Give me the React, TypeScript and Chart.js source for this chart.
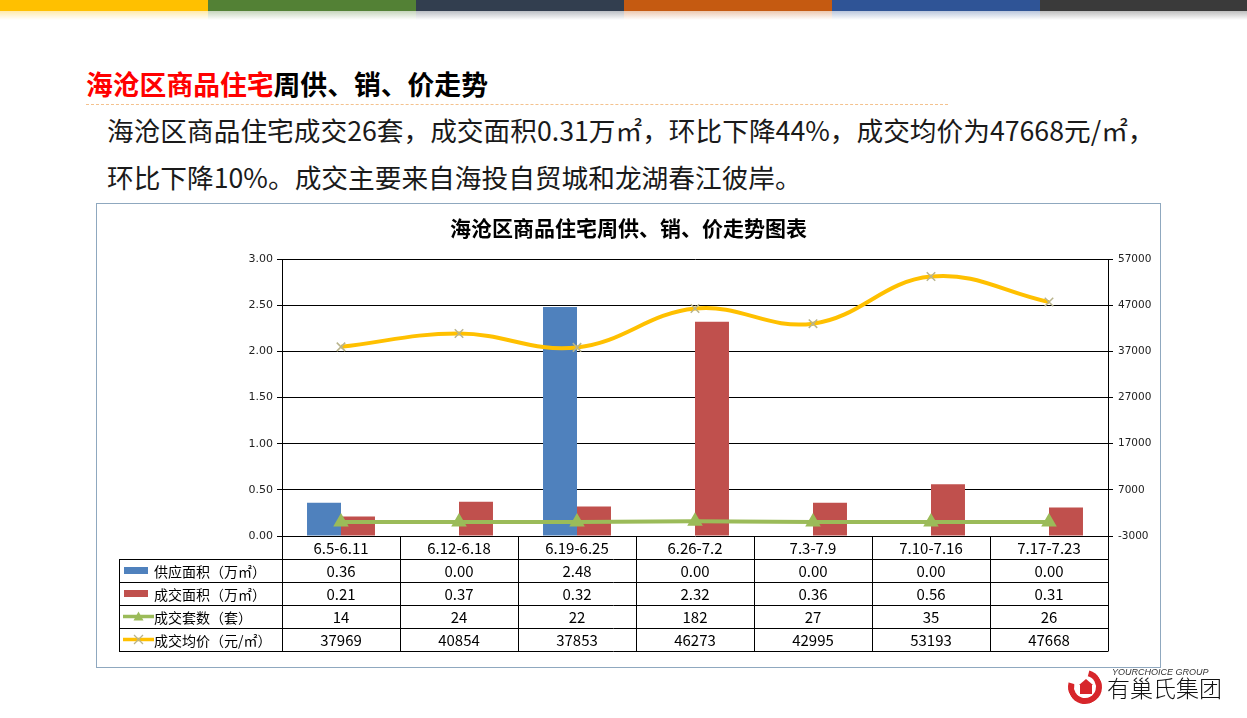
import React, { useEffect, useRef } from "react";
import { Chart, registerables } from "chart.js";

Chart.register(...registerables);

const categories = ["6.5-6.11", "6.12-6.18", "6.19-6.25", "6.26-7.2", "7.3-7.9", "7.10-7.16", "7.17-7.23"];
const supplyArea = [0.36, 0, 2.48, 0, 0, 0, 0];
const dealArea = [0.21, 0.37, 0.32, 2.32, 0.36, 0.56, 0.31];
const dealUnits = [14, 24, 22, 182, 27, 35, 26];
const avgPrice = [37969, 40854, 37853, 46273, 42995, 53193, 47668];
const leftTicks = [0, 0.5, 1, 1.5, 2, 2.5, 3];
const rightTicks = [-3000, 7000, 17000, 27000, 37000, 47000, 57000];
const seriesNames = ["供应面积（万㎡）", "成交面积（万㎡）", "成交套数（套）", "成交均价（元/㎡）"];
const chartTitle = "海沧区商品住宅周供、销、价走势图表";

const BLUE = "#4F81BD";
const RED = "#C0504D";
const GREEN = "#9BBB59";
const YELLOW = "#FFC000";
const MARK = "#B9B48C";

const stripeColors = ["#FFC000", "#538135", "#323E4F", "#C55A11", "#2F5496", "#3A3A3A"];

const CJK = '"Noto Sans CJK SC", "Noto Sans", sans-serif';

function ChartBox() {
  const ref = useRef<HTMLCanvasElement | null>(null);
  useEffect(() => {
    if (!ref.current) return;
    const tablePlugin = {
      id: "tablePlugin",
      afterDraw(chart: any) {
        const ctx = chart.ctx as CanvasRenderingContext2D;
        const area = chart.chartArea;
        const xs = chart.scales.x;
        const n = categories.length;
        const colW = (area.right - area.left) / n;
        const rowH = 23;
        const top = area.bottom;
        const legendLeft = 22;
        ctx.save();
        // title
        ctx.fillStyle = "#000";
        ctx.font = `bold 21px ${CJK}`;
        ctx.textAlign = "center";
        ctx.textBaseline = "middle";
        ctx.fillText(chartTitle, chart.width / 2, 24);
        // grid lines of table
        ctx.strokeStyle = "#000";
        ctx.lineWidth = 1;
        ctx.beginPath();
        for (let k = 1; k <= 5; k++) {
          const y = Math.round(top + rowH * k) + 0.5;
          ctx.moveTo(legendLeft, y);
          ctx.lineTo(area.right, y);
        }
        for (let k = 0; k <= n; k++) {
          const x = Math.round(area.left + colW * k) + 0.5;
          ctx.moveTo(x, top);
          ctx.lineTo(x, top + rowH * 5 + 0.5);
        }
        const lx = legendLeft + 0.5;
        ctx.moveTo(lx, top + rowH);
        ctx.lineTo(lx, top + rowH * 5 + 0.5);
        ctx.stroke();
        // text
        ctx.fillStyle = "#000";
        ctx.font = `15px ${CJK}`;
        ctx.textAlign = "center";
        const rows = [
          categories,
          supplyArea.map((v) => v.toFixed(2)),
          dealArea.map((v) => v.toFixed(2)),
          dealUnits.map((v) => String(v)),
          avgPrice.map((v) => String(v)),
        ];
        rows.forEach((row, r) => {
          const cy = top + rowH * r + rowH / 2 + 1;
          row.forEach((txt, i) => {
            const cx = xs.getPixelForValue(i);
            ctx.fillText(txt, cx, cy);
          });
        });
        // legend column
        ctx.textAlign = "left";
        ctx.font = `14px ${CJK}`;
        seriesNames.forEach((name, r) => {
          const cy = top + rowH * (r + 1) + rowH / 2;
          const ix = legendLeft + 4;
          if (r === 0 || r === 1) {
            ctx.fillStyle = r === 0 ? BLUE : RED;
            ctx.fillRect(ix + 1, cy - 3.5, 24, 7);
          } else if (r === 2) {
            ctx.strokeStyle = GREEN;
            ctx.lineWidth = 3.5;
            ctx.beginPath();
            ctx.moveTo(ix, cy);
            ctx.lineTo(ix + 31, cy);
            ctx.stroke();
            ctx.fillStyle = GREEN;
            ctx.beginPath();
            ctx.moveTo(ix + 15.5, cy - 5);
            ctx.lineTo(ix + 20.5, cy + 4);
            ctx.lineTo(ix + 10.5, cy + 4);
            ctx.closePath();
            ctx.fill();
          } else {
            ctx.strokeStyle = YELLOW;
            ctx.lineWidth = 3.5;
            ctx.beginPath();
            ctx.moveTo(ix, cy);
            ctx.lineTo(ix + 31, cy);
            ctx.stroke();
            ctx.strokeStyle = MARK;
            ctx.lineWidth = 1.3;
            ctx.beginPath();
            ctx.moveTo(ix + 11, cy - 4.5);
            ctx.lineTo(ix + 20, cy + 4.5);
            ctx.moveTo(ix + 20, cy - 4.5);
            ctx.lineTo(ix + 11, cy + 4.5);
            ctx.stroke();
          }
          ctx.fillStyle = "#000";
          ctx.fillText(name, legendLeft + 35, cy + 1);
        });
        ctx.restore();
      },
    };

    const chart = new Chart(ref.current, {
      type: "bar",
      data: {
        labels: categories,
        datasets: [
          {
            type: "line",
            label: seriesNames[3],
            data: avgPrice,
            yAxisID: "y2",
            borderColor: YELLOW,
            backgroundColor: YELLOW,
            borderWidth: 4,
            tension: 0.4,
            pointStyle: "crossRot",
            pointRadius: 6,
            pointBorderColor: MARK,
            pointBorderWidth: 1.5,
            order: 0,
          } as any,
          {
            type: "line",
            label: seriesNames[2],
            data: dealUnits,
            yAxisID: "y2",
            borderColor: GREEN,
            backgroundColor: GREEN,
            borderWidth: 4,
            tension: 0,
            pointStyle: "triangle",
            pointRadius: 5,
            pointBackgroundColor: GREEN,
            pointBorderColor: GREEN,
            order: 1,
          } as any,
          {
            type: "bar",
            label: seriesNames[0],
            data: supplyArea,
            yAxisID: "y",
            backgroundColor: BLUE,
            categoryPercentage: 0.576,
            barPercentage: 1,
            order: 2,
          },
          {
            type: "bar",
            label: seriesNames[1],
            data: dealArea,
            yAxisID: "y",
            backgroundColor: RED,
            categoryPercentage: 0.576,
            barPercentage: 1,
            order: 3,
          },
        ],
      },
      options: {
        responsive: false,
        animation: false,
        devicePixelRatio: 1,
        layout: { padding: { left: 0, right: 0, top: 55, bottom: 0 } },
        plugins: {
          legend: { display: false },
          tooltip: { enabled: false },
          title: { display: false },
        },
        scales: {
          x: {
            type: "category",
            offset: true,
            grid: { display: false },
            border: { display: false },
            ticks: { display: false },
            afterFit: (s: any) => {
              s.height = 131;
            },
          },
          y: {
            position: "left",
            min: 0,
            max: 3,
            afterBuildTicks: (s: any) => {
              s.ticks = leftTicks.map((v) => ({ value: v }));
            },
            afterFit: (s: any) => {
              s.width = 185;
            },
            ticks: {
              color: "#222",
              font: { family: "DejaVu Sans", size: 11 },
              padding: 4,
              callback: (v: any) => Number(v).toFixed(2),
            },
            grid: { color: "#000", tickColor: "#000", tickLength: 5, lineWidth: 1 },
            border: { display: true, color: "#000", width: 1 },
          },
          y2: {
            position: "right",
            min: -3000,
            max: 57000,
            afterBuildTicks: (s: any) => {
              s.ticks = rightTicks.map((v) => ({ value: v }));
            },
            afterFit: (s: any) => {
              s.width = 52;
            },
            ticks: {
              color: "#222",
              font: { family: "DejaVu Sans", size: 10.5 },
              padding: 5,
              callback: (v: any) => String(v),
            },
            grid: { drawOnChartArea: false, color: "#000", tickColor: "#000", tickLength: 5 },
            border: { display: true, color: "#000", width: 1 },
          },
        },
      } as any,
      plugins: [tablePlugin],
    });
    return () => chart.destroy();
  }, []);
  return <canvas ref={ref} width={1063} height={463} style={{ display: "block", width: 1063, height: 463 }} />;
}

export default function App() {
  useEffect(() => {
    document.body.style.margin = "0";
  }, []);
  return (
    <div style={{ position: "absolute", left: 0, top: 0, width: 1247, height: 718, background: "#fff", overflow: "hidden", fontFamily: CJK }}>
      {stripeColors.map((c, i) => (
        <div key={i} style={{ position: "absolute", left: i * 208, top: 0, width: i === 5 ? 1247 - 1040 : 208, height: 20 }}>
          <div style={{ height: 11, background: c }} />
          <div style={{ height: 9, background: `linear-gradient(${c}55, #ffffff00)` }} />
        </div>
      ))}
      <div style={{ position: "absolute", left: 86, top: 68, fontSize: 26.8, fontWeight: 700, lineHeight: "32px", whiteSpace: "nowrap", letterSpacing: 0 }}>
        <span style={{ color: "#FF0000" }}>海沧区商品住宅</span>
        <span style={{ color: "#000" }}>周供、销、价走势</span>
      </div>
      <div style={{ position: "absolute", left: 86, top: 104, width: 862, borderTop: "1px dashed #F4C28E" }} />
      <div style={{ position: "absolute", left: 107, top: 106, fontSize: 26.7, lineHeight: "47px", color: "#1a1a1a", whiteSpace: "nowrap" }}>
        <div>海沧区商品住宅成交26套，成交面积0.31万㎡，环比下降44%，成交均价为47668元/㎡，</div>
        <div>环比下降10%。成交主要来自海投自贸城和龙湖春江彼岸。</div>
      </div>
      <div style={{ position: "absolute", left: 96, top: 203, width: 1065, height: 465, boxSizing: "border-box", border: "1px solid #8FA8BF", background: "#fff" }}>
        <ChartBox />
      </div>
      <div style={{ position: "absolute", left: 1068, top: 670, width: 34, height: 34 }}>
        <div style={{ position: "absolute", left: 0, top: 0, width: 34, height: 34, boxSizing: "border-box", borderRadius: "50%", border: "6px solid #D7262B", borderTopColor: "transparent", transform: "rotate(-30deg)" }} />
        <div style={{ position: "absolute", left: 11, top: 9, width: 0, height: 0, borderLeft: "7px solid transparent", borderRight: "7px solid transparent", borderBottom: "6px solid #D7262B" }} />
        <div style={{ position: "absolute", left: 12, top: 15, width: 12, height: 9, background: "#D7262B" }} />
      </div>
      <div style={{ position: "absolute", left: 1112, top: 667, fontSize: 9, fontStyle: "italic", color: "#333", fontFamily: "Liberation Sans, sans-serif", whiteSpace: "nowrap" }}>YOURCHOICE GROUP</div>
      <div style={{ position: "absolute", left: 1107, top: 673, fontSize: 23, lineHeight: "28px", color: "#111", whiteSpace: "nowrap", fontWeight: 300 }}>有巢氏集团</div>
    </div>
  );
}
